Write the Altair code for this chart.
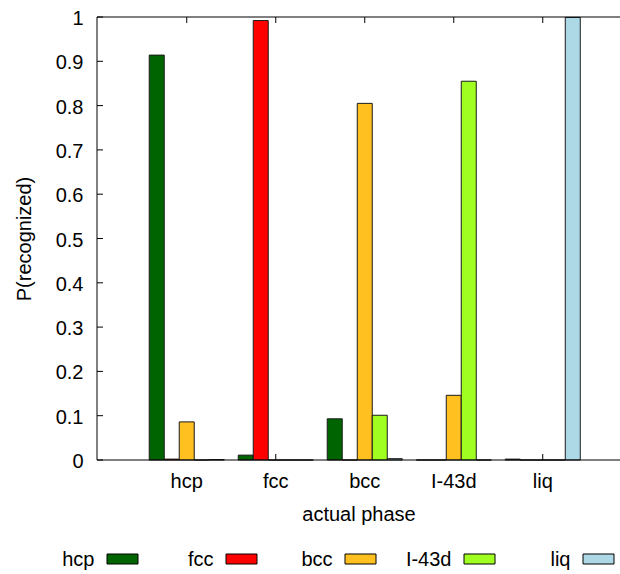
import altair as alt
import pandas as pd

# Actual phase of the sample (x groups) and the class the network assigned (bars)
phases = ["hcp", "fcc", "bcc", "I-43d", "liq"]
classes = ["hcp", "fcc", "bcc", "I-43d", "liq"]

# P(recognized as <class>) for each actual phase, in the order of `phases`
p_hcp = [0.914, 0.011, 0.093, 0.0, 0.002]
p_fcc = [0.002, 0.992, 0.0, 0.0, 0.0]
p_bcc = [0.086, 0.0, 0.805, 0.146, 0.0]
p_i43d = [0.0, 0.0, 0.101, 0.855, 0.0]
p_liq = [0.001, 0.0, 0.003, 0.0, 0.999]

class_colors = ["#006400", "#ff0000", "#ffc020", "#a0ff20", "#add8e6"]
y_tick_values = [0, 0.1, 0.2, 0.3, 0.4, 0.5, 0.6, 0.7, 0.8, 0.9, 1]

W, H = 523, 443
FONT = "Liberation Sans"
FS = 20
TICK = 6

rows = []
for cls, vals in zip(classes, [p_hcp, p_fcc, p_bcc, p_i43d, p_liq]):
    for ph, v in zip(phases, vals):
        rows.append({"phase": ph, "recognized": cls, "p": v})
df = pd.DataFrame(rows)

x_scale = alt.Scale(type="band", domain=phases, paddingInner=0.157,
                    paddingOuter=0.5166, align=0.568)
y_scale = alt.Scale(domain=[0, 1], nice=False, zero=True)

x_axis = alt.Axis(title="actual phase", labelAngle=0, ticks=False, tickSize=0,
                  domain=False, grid=False, labelPadding=11, titlePadding=13,
                  labelFont=FONT, labelFontSize=FS, titleFont=FONT,
                  titleFontSize=FS, titleFontWeight="normal",
                  labelColor="black", titleColor="black")
y_axis = alt.Axis(title="P(recognized)", values=y_tick_values, format="~g",
                  ticks=False, tickSize=0, domain=False, grid=False,
                  labelPadding=14, titlePadding=21, labelFlush=False,
                  labelOverlap=False, labelOffset=1.5,
                  labelFont=FONT, labelFontSize=FS, titleFont=FONT,
                  titleFontSize=FS, titleFontWeight="normal",
                  labelColor="black", titleColor="black")

bars = alt.Chart(df).mark_bar(stroke="#1a1a1a", strokeWidth=1).encode(
    x=alt.X("phase:N", scale=x_scale, axis=x_axis),
    xOffset=alt.XOffset("recognized:N",
                        scale=alt.Scale(domain=classes, paddingInner=0, paddingOuter=0)),
    y=alt.Y("p:Q", scale=y_scale, axis=y_axis),
    color=alt.Color("recognized:N", scale=alt.Scale(domain=classes, range=class_colors),
                    legend=None),
)

# inward tick marks on the bottom and top borders at each phase
tick_df = pd.DataFrame({"phase": phases})
x_ticks_bottom = alt.Chart(tick_df).mark_rule(color="black", strokeWidth=1).encode(
    x=alt.X("phase:N", scale=x_scale, axis=x_axis),
    y=alt.value(H - TICK), y2=alt.value(H),
)
x_ticks_top = alt.Chart(tick_df).mark_rule(color="black", strokeWidth=1).encode(
    x=alt.X("phase:N", scale=x_scale, axis=x_axis),
    y=alt.value(0), y2=alt.value(TICK),
)

plot = alt.layer(x_ticks_bottom, x_ticks_top, bars)

# inward tick marks on the left border
y_ticks = alt.Chart(pd.DataFrame({"p": y_tick_values})).mark_rule(
    color="black", strokeWidth=1
).encode(
    y=alt.Y("p:Q", scale=y_scale, axis=y_axis),
    x=alt.value(0), x2=alt.value(TICK),
)

# border: left, top and bottom
one = alt.Data(values=[{}])
border_left = alt.Chart(one).mark_rule(color="black", strokeWidth=1).encode(
    x=alt.value(0), y=alt.value(0), y2=alt.value(H))
border_top = alt.Chart(one).mark_rule(color="black", strokeWidth=1).encode(
    x=alt.value(0), x2=alt.value(W), y=alt.value(0))
border_bottom = alt.Chart(one).mark_rule(color="black", strokeWidth=1).encode(
    x=alt.value(0), x2=alt.value(W), y=alt.value(H))

# key below the plot: label followed by a filled box
legend_df = pd.DataFrame({"recognized": classes})
key_x = alt.X("recognized:N",
              scale=alt.Scale(type="point", domain=classes, range=[25.5, 501.5], padding=0),
              axis=None)
KEY_Y = 542
box = "M-1,-0.3226L1,-0.3226L1,0.3226L-1,0.3226Z"
key_boxes = alt.Chart(legend_df).mark_point(
    shape=box, size=961, filled=True, stroke="black", strokeWidth=1, opacity=1
).encode(
    x=key_x, y=alt.value(KEY_Y),
    fill=alt.Fill("recognized:N", scale=alt.Scale(domain=classes, range=class_colors),
                  legend=None),
)
key_labels = alt.Chart(legend_df).mark_text(
    align="right", baseline="middle", dx=-28, dy=1, font=FONT, fontSize=FS, color="black"
).encode(x=key_x, y=alt.value(KEY_Y), text="recognized:N")

chart = alt.layer(
    plot, y_ticks, border_left, border_top, border_bottom, key_boxes, key_labels
).resolve_scale(x="independent").properties(
    width=W, height=H,
    autosize=alt.AutoSizeParams(type="none"),
    padding={"left": 97, "top": 17, "right": 0, "bottom": 114},
    background="white",
).configure_view(stroke=None)

chart.save("out.html", embed_options={"renderer": "svg", "actions": False})
